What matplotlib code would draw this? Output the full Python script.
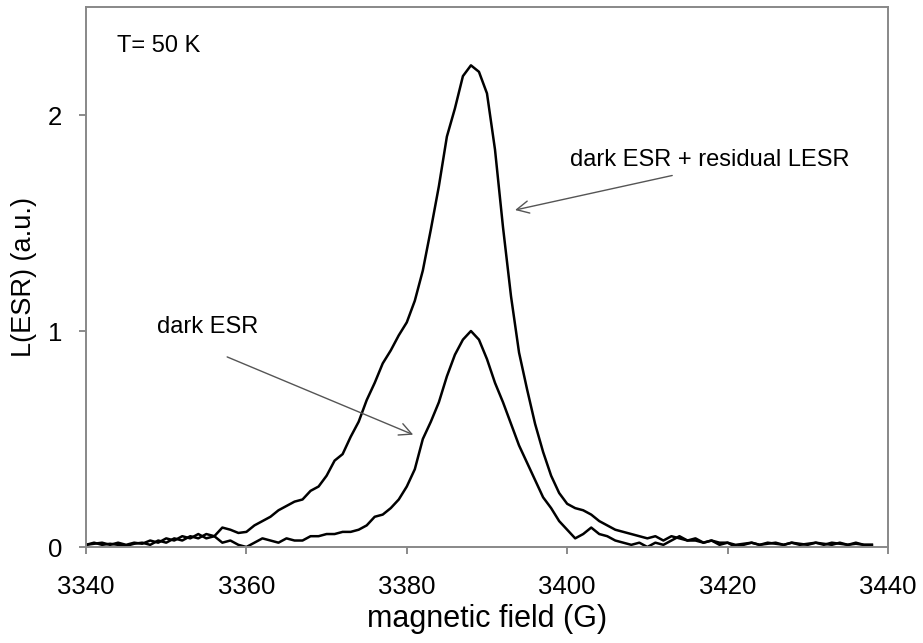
import matplotlib
matplotlib.use("Agg")
import matplotlib.pyplot as plt
import numpy as np

plt.rcParams['font.family'] = ['Liberation Sans', 'DejaVu Sans']

field = list(range(3340, 3439))

# dark ESR + residual LESR
total = [
    0.01, 0.02, 0.01, 0.015, 0.01, 0.005, 0.015, 0.02, 0.01, 0.03,
    0.02, 0.04, 0.03, 0.05, 0.04, 0.06, 0.05, 0.09, 0.08, 0.065,
    0.07, 0.10, 0.12, 0.14, 0.17, 0.19, 0.21, 0.22, 0.26, 0.28,
    0.33, 0.40, 0.43, 0.51, 0.58, 0.68, 0.76, 0.85, 0.91, 0.98,
    1.04, 1.14, 1.28, 1.47, 1.67, 1.90, 2.03, 2.18, 2.23, 2.20,
    2.10, 1.84, 1.48, 1.16, 0.90, 0.73, 0.57, 0.44, 0.33, 0.25,
    0.20, 0.18, 0.17, 0.15, 0.12, 0.10, 0.08, 0.07, 0.06, 0.05,
    0.04, 0.05, 0.03, 0.05, 0.04, 0.03, 0.03, 0.02, 0.03, 0.02,
    0.02, 0.01, 0.015, 0.02, 0.01, 0.02, 0.015, 0.01, 0.02, 0.015,
    0.01, 0.02, 0.015, 0.01, 0.02, 0.01, 0.015, 0.01, 0.01,
]

# dark ESR
dark = [
    0.01, 0.015, 0.02, 0.01, 0.02, 0.01, 0.02, 0.015, 0.03, 0.02,
    0.04, 0.03, 0.05, 0.04, 0.06, 0.04, 0.05, 0.02, 0.03, 0.01,
    0.00, 0.02, 0.04, 0.03, 0.02, 0.04, 0.03, 0.03, 0.05, 0.05,
    0.06, 0.06, 0.07, 0.07, 0.08, 0.10, 0.14, 0.15, 0.18, 0.22,
    0.28, 0.36, 0.50, 0.58, 0.67, 0.79, 0.89, 0.96, 1.00, 0.96,
    0.87, 0.76, 0.67, 0.57, 0.47, 0.39, 0.31, 0.23, 0.18, 0.12,
    0.08, 0.04, 0.06, 0.09, 0.06, 0.05, 0.03, 0.02, 0.01, 0.02,
    0.00, 0.02, 0.01, 0.03, 0.05, 0.03, 0.04, 0.02, 0.03, 0.01,
    0.02, 0.00, 0.01, 0.02, 0.01, 0.015, 0.02, 0.01, 0.02, 0.01,
    0.015, 0.02, 0.01, 0.02, 0.015, 0.01, 0.02, 0.01, 0.01,
]

xticks = [3340, 3360, 3380, 3400, 3420, 3440]
yticks = [0, 1, 2]

fig = plt.figure(figsize=(9.23, 6.43), dpi=100)
ax = fig.add_axes([0.0932, 0.1493, 0.8688, 0.8398])

ax.plot(field, total, color='black', lw=1.8)
ax.plot(field, dark, color='black', lw=1.8)

ax.set_xlim(3340, 3440)
ax.set_ylim(0, 2.5)
ax.set_xticks(xticks)
ax.set_yticks(yticks)
ax.tick_params(direction='out', length=5, width=1.2, color='#777777',
               labelsize=18.5)
ax.tick_params(axis='x', pad=15)
ax.tick_params(axis='y', pad=12)
for s in ax.spines.values():
    s.set_color('#888888')
    s.set_linewidth(1.4)

ax.set_xlabel('magnetic field (G)', fontsize=22, labelpad=4)
ax.set_ylabel('L(ESR) (a.u.)', fontsize=19.5, labelpad=8)

ax.text(3343.9, 2.32, 'T= 50 K', fontsize=17, va='center', ha='left')

arrow_kw = dict(arrowstyle='->', color='#555555', lw=1.0,
                mutation_scale=22, shrinkA=0, shrinkB=0)
ax.text(3417.8, 1.79, 'dark ESR + residual LESR', fontsize=17,
        ha='center', va='center')
ax.annotate('', xy=(3393.5, 1.56), xytext=(3413.1, 1.72), arrowprops=arrow_kw)
ax.text(3355.2, 1.02, 'dark ESR', fontsize=17, ha='center', va='center')
ax.annotate('', xy=(3380.8, 0.52), xytext=(3357.6, 0.88), arrowprops=arrow_kw)

fig.savefig('out.png', dpi=100)
